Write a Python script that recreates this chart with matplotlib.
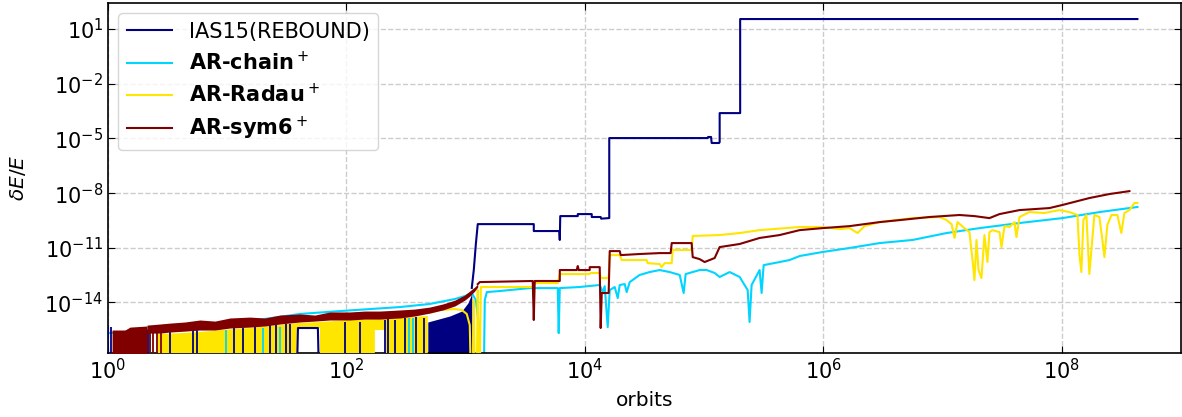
import numpy as np
import matplotlib
matplotlib.use('Agg')
import matplotlib.pyplot as plt

FLOOR = -18.0  # dE/E hits 0 -> drawn below the bottom of the axis

# all values: log10(orbits), log10(dE/E)

# ---- IAS15 (REBOUND)
ias_lx = [3.051, 3.068, 3.085, 3.101, 3.571, 3.571, 3.785, 3.789, 3.793, 3.940,
          3.940, 4.057, 4.057, 4.132, 4.136, 4.204, 4.204, 5.029, 5.033, 5.058,
          5.063, 5.125, 5.130, 5.130, 5.302, 5.302, 8.634]
ias_ly = [-13.20, -12.20, -10.80, -9.70, -9.70, -10.08, -10.08, -10.57, -9.26, -9.26,
          -9.15, -9.15, -9.31, -9.31, -9.40, -9.37, -4.98, -4.98, -4.92, -4.92,
          -5.25, -5.25, -5.20, -3.61, -3.61, 1.55, 1.55]
ias_blk_lx = [2.682, 2.867, 2.967, 3.018, 3.043, 3.051]
ias_blk_ly = [-15.07, -14.74, -14.47, -14.03, -13.65, -13.32]
ias_spk_lx = [0.000, 0.025, 0.335, 0.520, 0.712, 0.746, 1.056, 1.132, 1.232, 1.358,
              1.408, 1.492, 1.526, 1.987, 2.112, 2.322, 2.347, 2.406, 2.490, 2.582, 2.649]
ias_spk_ly = [-15.24, -15.35, -15.51, -15.62, -15.51, -15.51, -15.40, -15.40, -15.35, -15.24,
              -15.24, -15.18, -15.18, -15.07, -15.07, -14.96, -14.85, -14.96, -14.85, -14.80, -14.85]
ias_bump_lx = [1.584, 1.593, 1.760, 1.769]
ias_bump_ly = [FLOOR, -15.40, -15.40, FLOOR]

# ---- AR-chain+
chain_lx = [0.000, 0.352, 0.771, 1.190, 1.609, 1.945, 2.196, 2.448, 2.699, 2.909,
            2.992, 3.051, 3.085, 3.110, 3.127, 3.152, 3.160, 3.177, 3.286, 3.537,
            3.772, 3.780, 3.789, 3.956, 4.124, 4.149, 4.166, 4.191, 4.208, 4.250,
            4.275, 4.292, 4.334, 4.350, 4.376, 4.459, 4.543, 4.627, 4.711, 4.795,
            4.828, 4.845, 4.962, 5.021, 5.088, 5.130, 5.214, 5.298, 5.365, 5.381,
            5.398, 5.465, 5.482, 5.499, 5.633, 5.717, 5.801, 5.993, 6.220, 6.471,
            6.748, 7.033, 7.309, 7.645, 8.005, 8.315, 8.634]
chain_ly = [-15.68, -15.51, -15.18, -15.02, -14.63, -14.47, -14.36, -14.25, -14.08, -13.81,
            -13.65, -13.48, -13.87, -15.24, FLOOR, FLOOR, -13.87, -13.43, -13.37, -13.21,
            -13.21, -15.68, -13.21, -13.15, -13.04, -13.43, -13.10, -15.35, -13.32, -13.15,
            -13.76, -13.04, -12.99, -13.43, -12.88, -12.49, -12.33, -12.22, -12.33, -12.49,
            -13.48, -12.44, -12.22, -12.22, -12.38, -12.60, -12.33, -12.60, -13.32, -15.07,
            -13.04, -12.22, -13.48, -11.95, -11.78, -11.67, -11.45, -11.23, -11.01, -10.74,
            -10.57, -10.19, -9.92, -9.64, -9.37, -9.04, -8.76]
chain_spk_lx = [0.352, 0.989, 1.299, 1.442, 2.523, 2.557]
chain_spk_ly = [-15.51, -15.51, -15.40, -15.35, -14.85, -14.85]

# ---- AR-Radau+
radau_lx = [2.682, 2.783, 2.909, 2.967, 3.009, 3.034, 3.043, 3.060, 3.068, 3.076,
            3.093, 3.101, 3.110, 3.118, 3.127, 3.562, 3.579, 3.772, 3.789, 4.040,
            4.049, 4.124, 4.132, 4.199, 4.208, 4.292, 4.308, 4.518, 4.526, 4.627,
            4.643, 4.669, 4.728, 4.736, 4.895, 4.904, 5.130, 5.298, 5.465, 5.801,
            5.993, 6.136, 6.220, 6.287, 6.345, 6.471, 6.748, 6.974, 7.033, 7.075,
            7.100, 7.125, 7.183, 7.225, 7.251, 7.267, 7.284, 7.301, 7.326, 7.351,
            7.376, 7.393, 7.418, 7.477, 7.494, 7.519, 7.561, 7.603, 7.619, 7.645,
            7.728, 7.854, 7.980, 8.064, 8.131, 8.148, 8.164, 8.181, 8.206, 8.231,
            8.248, 8.273, 8.315, 8.340, 8.357, 8.382, 8.416, 8.466, 8.499, 8.525,
            8.567, 8.609, 8.634]
radau_ly = [-14.58, -14.41, -14.36, -14.41, -14.63, -15.24, FLOOR, FLOOR, -13.87, FLOOR,
            FLOOR, -13.32, FLOOR, FLOOR, -13.15, -13.15, -12.93, -12.93, -12.44, -12.44,
            -12.38, -12.38, -12.66, -12.66, -11.40, -11.40, -11.67, -11.67, -11.84, -11.89,
            -12.06, -11.84, -11.84, -11.12, -11.12, -10.35, -10.30, -10.19, -10.03, -9.86,
            -9.86, -9.97, -9.92, -10.19, -9.81, -9.59, -9.37, -9.31, -9.48, -9.70,
            -10.46, -9.59, -9.92, -10.14, -11.67, -12.77, -10.57, -12.22, -12.66, -10.30,
            -11.78, -10.14, -10.03, -10.14, -10.96, -9.81, -9.86, -9.59, -10.41, -9.31,
            -9.04, -9.09, -8.93, -9.04, -9.20, -11.40, -12.33, -9.48, -9.20, -12.44,
            -11.12, -9.20, -9.31, -10.57, -11.51, -9.75, -9.20, -9.20, -10.19, -9.09,
            -8.93, -8.54, -8.54]
# dense oscillation at early times: envelope of the solid band
radau_fill_lx = [0.210, 0.243, np.nan, 0.419, 0.604, 0.771, 0.939, 1.190, 1.442, 1.584,
                 1.584, 1.777, 1.777, 2.028, 2.238, 2.238, 2.330, 2.330, 2.448, 2.682]
radau_fill_top = [-15.68, -15.68, np.nan, -15.73, -15.68, -15.62, -15.51, -15.40, -15.24, -15.13,
                  -15.13, -15.07, -15.07, -14.96, -14.91, -14.91, -14.91, -14.91, -14.85, -14.74]
radau_fill_bot = [FLOOR, FLOOR, np.nan, FLOOR, FLOOR, FLOOR, FLOOR, FLOOR, FLOOR, FLOOR,
                  -15.40, -15.40, FLOOR, FLOOR, FLOOR, -15.51, -15.51, FLOOR, FLOOR, FLOOR]

# ---- AR-sym6+
sym6_lx = [3.101, 3.118, 3.562, 3.571, 3.579, 3.789, 3.789, 3.931, 3.940, 3.948,
           4.040, 4.040, 4.124, 4.132, 4.141, 4.199, 4.208, 4.292, 4.300, 4.459,
           4.627, 4.719, 4.728, 4.895, 4.904, 4.962, 5.004, 5.046, 5.088, 5.130,
           5.298, 5.465, 5.633, 5.801, 5.993, 6.220, 6.471, 6.639, 6.890, 7.142,
           7.267, 7.393, 7.477, 7.645, 7.896, 8.005, 8.231, 8.399, 8.567]
sym6_ly = [-12.99, -12.88, -12.82, -14.96, -12.82, -12.82, -12.22, -12.22, -12.00, -12.22,
           -12.22, -12.06, -12.06, -15.40, -13.48, -13.48, -11.18, -11.18, -11.40, -11.34,
           -11.29, -11.29, -10.74, -10.74, -11.51, -11.62, -11.78, -11.67, -11.56, -10.96,
           -10.79, -10.46, -10.30, -10.03, -9.92, -9.81, -9.59, -9.48, -9.31, -9.20,
           -9.26, -9.37, -9.15, -8.93, -8.82, -8.65, -8.27, -8.05, -7.89]
sym6_blk_lx = [0.034, 0.142, 0.184, 0.327]
sym6_blk_ly = [-15.51, -15.51, -15.35, -15.29]
sym6_band_lx = [0.327, 0.436, 0.520, 0.645, 0.771, 0.897, 1.023, 1.190, 1.316, 1.442,
                1.609, 1.735, 1.861, 2.028, 2.154, 2.280, 2.448, 2.573, 2.699, 2.808,
                2.909, 2.992, 3.034, 3.076, 3.101]
sym6_band_hi = [-15.24, -15.18, -15.13, -15.07, -14.96, -15.02, -14.85, -14.80, -14.85, -14.69,
                -14.63, -14.69, -14.52, -14.52, -14.47, -14.47, -14.41, -14.36, -14.25, -14.08,
                -13.87, -13.59, -13.37, -13.15, -12.99]
sym6_band_lo = [-15.68, -15.68, -15.62, -15.57, -15.51, -15.51, -15.40, -15.35, -15.29, -15.18,
                -15.07, -15.02, -14.96, -14.96, -14.91, -14.91, -14.85, -14.74, -14.58, -14.41,
                -14.19, -13.87, -13.65, -13.37, -13.15]
sym6_spk_lx = [0.352, 0.377, 0.411, 0.444]
sym6_spk_ly = [-15.51, -15.51, -15.51, -15.51]

labels = ['IAS15(REBOUND)', 'AR-chain$^+$', 'AR-Radau$^+$', 'AR-sym6$^+$']


def p(v):
    return 10 ** np.asarray(v, dtype=float)


cmap = plt.get_cmap('jet')
c_ias, c_chain, c_radau, c_sym6 = [cmap(v) for v in np.linspace(0, 1, 4)]
lw = 1.5

fig = plt.figure(figsize=(11.82, 4.17), dpi=100)
ax = fig.add_axes([0.0914, 0.1535, 0.9078, 0.8393])
ax.set_xscale('log')
ax.set_yscale('log')

# IAS15
ax.fill_between(p(ias_blk_lx), p(FLOOR), p(ias_blk_ly), color=c_ias, lw=0, zorder=1.9)
ax.vlines(p(ias_spk_lx), p(FLOOR), p(ias_spk_ly), colors=[c_ias], lw=1.3, zorder=3.5)
ax.plot(p(ias_bump_lx), p(ias_bump_ly), color=c_ias, lw=lw, zorder=3.5)
l1, = ax.plot(p(ias_lx), p(ias_ly), color=c_ias, lw=lw, zorder=1.9)

# AR-chain
l2, = ax.plot(p(chain_lx), p(chain_ly), color=c_chain, lw=lw, zorder=2)
ax.vlines(p(chain_spk_lx), p(FLOOR), p(chain_spk_ly), colors=[c_chain], lw=1.3, zorder=3.5)

# AR-Radau
ax.fill_between(p(radau_fill_lx), p(radau_fill_bot), p(radau_fill_top), color=c_radau, lw=0, zorder=3)
l3, = ax.plot(p(radau_lx), p(radau_ly), color=c_radau, lw=lw, zorder=3)

# AR-sym6
ax.fill_between(p(sym6_blk_lx), p(FLOOR), p(sym6_blk_ly), color=c_sym6, lw=0, zorder=4)
ax.fill_between(p(sym6_band_lx), p(sym6_band_lo), p(sym6_band_hi), color=c_sym6, lw=0, zorder=4)
ax.vlines(p(sym6_spk_lx), p(FLOOR), p(sym6_spk_ly), colors=[c_sym6], lw=1.3, zorder=4)
l4, = ax.plot(p(sym6_lx), p(sym6_ly), color=c_sym6, lw=lw, zorder=4)

ax.set_xlim(1, 1e9)
ax.set_ylim(10 ** -16.77, 10 ** 2.43)
ax.set_xticks([1e0, 1e2, 1e4, 1e6, 1e8])
ax.set_yticks([1e-14, 1e-11, 1e-8, 1e-5, 1e-2, 1e1])
ax.minorticks_off()
ax.tick_params(which='both', direction='in', top=True, right=True, length=5, labelsize=15)
ax.grid(True, ls='--', color='#cccccc', lw=1)
ax.set_axisbelow(True)
for s in ax.spines.values():
    s.set_linewidth(1.2)

ax.set_xlabel('orbits', fontsize=14.5, labelpad=6)
ax.set_ylabel(r'$\delta E/E$', fontsize=14.5, labelpad=12)

leg = ax.legend([l1, l2, l3, l4], labels, loc='upper left', fontsize=15,
                handlelength=2.15, handletextpad=0.85, labelspacing=0.42)
for t in leg.get_texts()[1:]:
    t.set_fontweight('bold')

fig.savefig('out.png', dpi=100)
